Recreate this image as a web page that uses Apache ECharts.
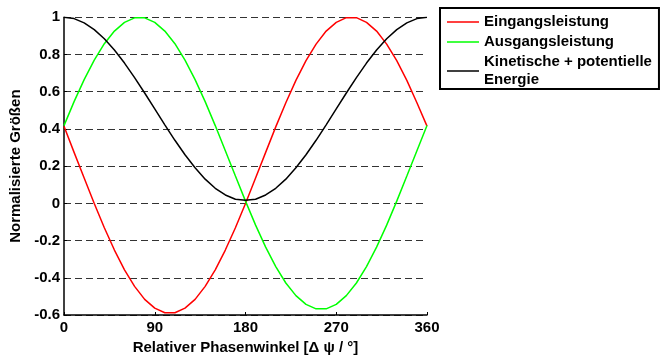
<!DOCTYPE html>
<html>
<head>
<meta charset="utf-8">
<script src="https://cdn.jsdelivr.net/npm/echarts@6/dist/echarts.min.js"></script>
<style>
html,body{margin:0;padding:0;background:#fff;}
#c{width:667px;height:360px;}
</style>
</head>
<body>
<div id="c"></div>
<script>
var angles = [0,10,20,30,40,50,60,70,80,90,100,110,120,130,140,150,160,170,180,190,200,210,220,230,240,250,260,270,280,290,300,310,320,330,340,350,360];
var eingang = [0.415,0.274,0.136,-0.001,-0.131,-0.251,-0.357,-0.446,-0.516,-0.563,-0.588,-0.588,-0.563,-0.516,-0.446,-0.357,-0.251,-0.131,-0.001,0.136,0.274,0.411,0.541,0.661,0.767,0.856,0.926,0.973,0.998,0.998,0.973,0.926,0.856,0.767,0.661,0.541,0.415];
var ausgang = [0.418,0.547,0.665,0.770,0.858,0.926,0.973,0.997,0.997,0.973,0.926,0.858,0.770,0.665,0.547,0.418,0.283,0.147,0.012,-0.117,-0.235,-0.340,-0.428,-0.496,-0.543,-0.567,-0.567,-0.543,-0.496,-0.428,-0.340,-0.235,-0.117,0.012,0.147,0.283,0.418];
var energie = [1.000,0.993,0.970,0.934,0.885,0.824,0.754,0.676,0.593,0.508,0.422,0.339,0.261,0.191,0.130,0.081,0.045,0.022,0.017,0.022,0.045,0.081,0.130,0.191,0.261,0.339,0.422,0.508,0.593,0.676,0.754,0.824,0.885,0.934,0.970,0.993,1.000];
var seriesNames = ['Eingangsleistung','Ausgangsleistung','Kinetische + potentielle\nEnergie'];
var xTitle = 'Relativer Phasenwinkel [\u0394 \u03C8 / \u00B0]';
var yTitle = 'Normalisierte Gr\u00F6\u00DFen';

function pairs(ys){ return angles.map(function(a,i){ return [a, ys[i]]; }); }

var FONT = '"Liberation Sans", Arial, sans-serif';
var chart = echarts.init(document.getElementById('c'), null, {renderer:'canvas'});
chart.setOption({
  animation:false,
  backgroundColor:'#fff',
  grid:{left:64, right:240, top:17.3, bottom:38.3, containLabel:false},
  legend:{
    orient:'vertical', left:440, top:8,
    data:seriesNames,
    icon:'rect',
    borderColor:'#000', borderWidth:2, borderRadius:0,
    padding:[5,7,0,7],
    itemGap:2, itemWidth:32, itemHeight:1.5,
    textStyle:{fontFamily:FONT, fontWeight:'bold', fontSize:15, lineHeight:18, color:'#000', padding:[0,0,0,0]},
    selectedMode:false
  },
  xAxis:{
    type:'value', min:0, max:360, interval:90,
    name:xTitle, nameLocation:'middle', nameGap:25,
    nameTextStyle:{fontFamily:FONT, fontWeight:'bold', fontSize:15, color:'#000'},
    axisLine:{show:true, onZero:false, lineStyle:{color:'#000', width:1.5}},
    axisTick:{show:true, inside:true, length:3, lineStyle:{color:'#000', width:1}},
    axisLabel:{fontFamily:FONT, fontWeight:'bold', fontSize:15, color:'#000', margin:5},
    splitLine:{show:false}
  },
  yAxis:{
    type:'value', min:-0.6, max:1, interval:0.2,
    name:yTitle, nameLocation:'middle', nameGap:26,
    nameTextStyle:{fontFamily:FONT, fontWeight:'bold', fontSize:15, color:'#000'},
    axisLine:{show:true, onZero:false, lineStyle:{color:'#000', width:1.5}},
    axisTick:{show:true, inside:true, length:3, lineStyle:{color:'#000', width:1}},
    axisLabel:{fontFamily:FONT, fontWeight:'bold', fontSize:15, color:'#000', margin:4},
    splitLine:{show:true, lineStyle:{color:'#333', width:1, type:[7,4]}}
  },
  series:[
    {name:seriesNames[0], type:'line', data:pairs(eingang), symbol:'none', smooth:false, lineStyle:{color:'#ff0000', width:1.5}, itemStyle:{color:'#ff0000'}},
    {name:seriesNames[1], type:'line', data:pairs(ausgang), symbol:'none', smooth:false, lineStyle:{color:'#00ff00', width:1.5}, itemStyle:{color:'#00ff00'}},
    {name:seriesNames[2], type:'line', data:pairs(energie), symbol:'none', smooth:false, lineStyle:{color:'#000000', width:1.5}, itemStyle:{color:'#000000'}}
  ]
});
</script>
</body>
</html>
